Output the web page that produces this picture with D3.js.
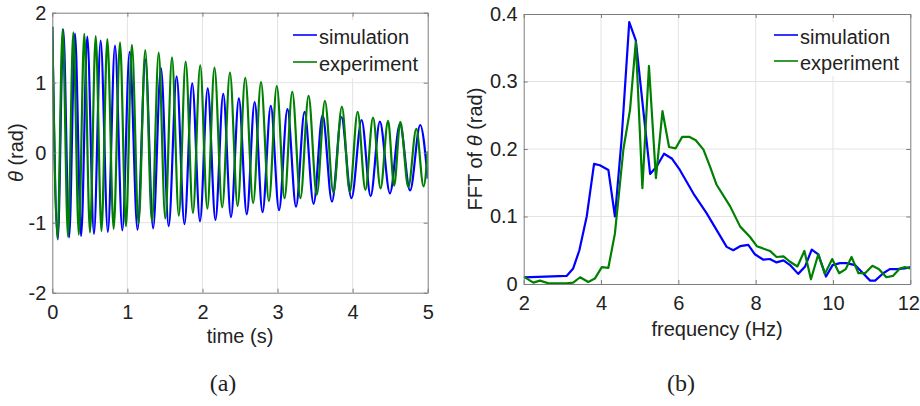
<!DOCTYPE html>
<html>
<head>
<meta charset="utf-8">
<script src="https://cdn.jsdelivr.net/npm/d3@7/dist/d3.min.js"></script>
<style>
  html, body { margin: 0; padding: 0; background: #fff; }
  svg { display: block; }
  text { font-family: "Liberation Sans", Arial, Helvetica, sans-serif; fill: #222; }
</style>
</head>
<body>
<svg id="fig" width="920" height="406"></svg>
<script>
// ---- (a) time response: successive peaks and troughs of θ(t) ----
const simTime = [0, 0.073, 0.146, 0.224, 0.302, 0.384, 0.466, 0.555, 0.644, 0.74, 0.835, 0.933,
  1.03, 1.135, 1.24, 1.343, 1.447, 1.55, 1.656, 1.76, 1.864, 1.967, 2.07, 2.173, 2.277, 2.38,
  2.485, 2.59, 2.695, 2.80, 2.91, 3.02, 3.132, 3.246, 3.36, 3.48, 3.60, 3.725, 3.85, 3.985,
  4.12, 4.24, 4.363, 4.497, 4.63, 4.765, 4.90, 5.0];
const simTheta = [1.80, -1.24, 1.76, -1.21, 1.70, -1.19, 1.66, -1.16, 1.60, -1.13, 1.53, -1.11,
  1.44, -1.10, 1.33, -1.08, 1.21, -1.05, 1.09, -1.02, 0.99, -0.98, 0.92, -0.96, 0.84, -0.92,
  0.777, -0.88, 0.724, -0.85, 0.668, -0.82, 0.622, -0.77, 0.583, -0.73, 0.538, -0.70, 0.51, -0.65,
  0.467, -0.62, 0.443, -0.58, 0.41, -0.54, 0.396, -0.37];

const expTime = [0, 0.069, 0.138, 0.209, 0.28, 0.353, 0.426, 0.502, 0.578, 0.655, 0.733, 0.817,
  0.902, 0.981, 1.06, 1.149, 1.238, 1.327, 1.417, 1.505, 1.594, 1.685, 1.776, 1.873, 1.97, 2.065,
  2.16, 2.263, 2.366, 2.468, 2.57, 2.675, 2.78, 2.885, 2.99, 3.093, 3.196, 3.305, 3.413, 3.522,
  3.631, 3.744, 3.857, 3.962, 4.067, 4.17, 4.272, 4.372, 4.472, 4.553, 4.635, 4.742, 4.848, 4.945, 5.0];
const expTheta = [1.80, -1.22, 1.767, -1.20, 1.72, -1.17, 1.697, -1.14, 1.667, -1.12, 1.624, -1.09,
  1.577, -1.05, 1.539, -1.01, 1.467, -0.98, 1.429, -0.94, 1.363, -0.90, 1.30, -0.86, 1.249, -0.80,
  1.214, -0.78, 1.143, -0.76, 1.071, -0.72, 1.01, -0.69, 0.953, -0.65, 0.871, -0.65, 0.812, -0.60,
  0.741, -0.57, 0.657, -0.56, 0.582, -0.53, 0.50, -0.51, 0.455, -0.47, 0.44, -0.49, 0.339, -0.48, 0.02];

const timeTicks = [0, 1, 2, 3, 4, 5];
const thetaTicks = [-2, -1, 0, 1, 2];

// ---- (b) amplitude spectrum of θ ----
const simFreq = [2, 3.11, 3.28, 3.44, 3.63, 3.82, 3.97, 4.19, 4.36, 4.53, 4.73, 4.9, 5.27, 5.44,
  5.63, 5.83, 6.04, 6.39, 6.73, 7.25, 7.42, 7.6, 7.81, 7.98, 8.2, 8.37, 8.54, 8.72, 8.89, 9.1,
  9.28, 9.45, 9.62, 9.82, 9.99, 10.18, 10.35, 10.57, 10.74, 10.96, 11.09, 11.3, 11.47, 11.64, 11.86, 12];
const simFFT = [0.0099, 0.012, 0.023, 0.05, 0.10, 0.178, 0.176, 0.169, 0.10, 0.213, 0.388, 0.361,
  0.163, 0.174, 0.193, 0.186, 0.169, 0.134, 0.105, 0.055, 0.05, 0.056, 0.058, 0.044, 0.036, 0.037,
  0.032, 0.035, 0.028, 0.015, 0.026, 0.051, 0.044, 0.011, 0.028, 0.031, 0.031, 0.028, 0.018, 0.005,
  0.005, 0.016, 0.022, 0.022, 0.023, 0.025];

const expFreq = [2, 2.25, 2.42, 2.64, 3.11, 3.28, 3.46, 3.67, 3.84, 4.02, 4.19, 4.36, 4.58, 4.75,
  4.9, 5.07, 5.24, 5.42, 5.59, 5.76, 5.93, 6.1, 6.28, 6.45, 6.65, 6.82, 6.99, 7.34, 7.6, 7.85,
  8.03, 8.37, 8.54, 8.72, 8.89, 9.08, 9.26, 9.43, 9.62, 9.79, 9.98, 10.16, 10.33, 10.48, 10.66,
  10.83, 11.02, 11.19, 11.38, 11.55, 11.73, 11.86, 12];
const expFFT = [0.011, 0.002, 0.005, 0.001, 0.001, 0.002, 0.01, 0.003, 0.008, 0.025, 0.024, 0.075,
  0.2, 0.258, 0.359, 0.142, 0.323, 0.157, 0.256, 0.203, 0.201, 0.218, 0.218, 0.213, 0.199, 0.174,
  0.147, 0.115, 0.085, 0.07, 0.056, 0.049, 0.04, 0.041, 0.033, 0.026, 0.049, 0.007, 0.044, 0.015,
  0.037, 0.016, 0.022, 0.04, 0.016, 0.016, 0.027, 0.022, 0.01, 0.012, 0.023, 0.025, 0.023];

const freqTicks = [2, 4, 6, 8, 10, 12];
const fftTicks = [0, 0.1, 0.2, 0.3, 0.4];

const seriesNames = ["simulation", "experiment"];
const seriesColors = ["#0000ff", "#008000"];

const svg = d3.select("#fig");
const FONT = 20;
const FRAME = "#7d7d7d";
const GRID = "#e3e3e3";

function panel(opts) {
  const { x, y, xTicks, yTicks, xFmt, yFmt, series, curve, legend, xLabel, yLabel, id } = opts;
  const [x0, x1] = x.range();
  const [y0, y1] = y.range(); // y0 bottom, y1 top
  const g = svg.append("g");

  g.append("defs").append("clipPath").attr("id", id)
    .append("rect").attr("x", x0).attr("y", y1).attr("width", x1 - x0).attr("height", y0 - y1);

  // grid
  g.append("g").selectAll("line").data(xTicks.slice(1, -1)).join("line")
    .attr("x1", d => x(d)).attr("x2", d => x(d)).attr("y1", y1).attr("y2", y0)
    .attr("stroke", GRID).attr("stroke-width", 1);
  g.append("g").selectAll("line").data(yTicks.slice(1, -1)).join("line")
    .attr("y1", d => y(d)).attr("y2", d => y(d)).attr("x1", x0).attr("x2", x1)
    .attr("stroke", GRID).attr("stroke-width", 1);

  // data
  const plot = g.append("g").attr("clip-path", `url(#${id})`);
  series.forEach((s, i) => {
    const pts = s.xs.map((v, k) => [v, s.ys[k]]);
    plot.append("path")
      .attr("d", d3.line().x(d => x(d[0])).y(d => y(d[1])).curve(curve)(pts))
      .attr("fill", "none").attr("stroke", seriesColors[i])
      .attr("stroke-width", 2.2).attr("stroke-linejoin", "round");
  });

  // legend
  const lg = g.append("g");
  lg.append("rect").attr("x", legend.bx).attr("y", legend.by).attr("width", legend.bw)
    .attr("height", legend.bh).attr("fill", "#fff");
  seriesNames.forEach((name, i) => {
    const ly = legend.ly[i];
    lg.append("line").attr("x1", legend.lx).attr("x2", legend.lx + 24)
      .attr("y1", ly).attr("y2", ly).attr("stroke", seriesColors[i]).attr("stroke-width", 1.6);
    lg.append("text").attr("x", legend.lx + 26).attr("y", ly + 9)
      .attr("font-size", FONT).text(name);
  });

  // frame and inward ticks on all four sides
  const style = a => a.call(s => {
    s.select(".domain").attr("stroke", FRAME);
    s.selectAll(".tick line").attr("stroke", FRAME);
    s.selectAll(".tick text").attr("font-size", FONT)
      .attr("font-family", "'Liberation Sans', Arial, sans-serif").attr("fill", "#222");
  });
  const bottom = g.append("g").attr("transform", `translate(0,${y0})`)
    .call(d3.axisBottom(x).tickValues(xTicks).tickFormat(xFmt).tickSize(-4).tickSizeOuter(0).tickPadding(12))
    .call(style);
  if (xLabel.lastShift) {
    bottom.selectAll(".tick text").filter((d, k, n) => k === n.length - 1)
      .attr("dx", xLabel.lastShift);
  }
  g.append("g").attr("transform", `translate(0,${y1})`)
    .call(d3.axisTop(x).tickValues(xTicks).tickFormat("").tickSize(-4).tickSizeOuter(0))
    .call(style);
  g.append("g").attr("transform", `translate(${x0},0)`)
    .call(d3.axisLeft(y).tickValues(yTicks).tickFormat(yFmt).tickSize(-4).tickSizeOuter(0).tickPadding(6))
    .call(style);
  g.append("g").attr("transform", `translate(${x1},0)`)
    .call(d3.axisRight(y).tickValues(yTicks).tickFormat("").tickSize(-4).tickSizeOuter(0))
    .call(style);
  g.selectAll(".domain").attr("fill", "none");

  // axis titles
  g.append("text").attr("x", (x0 + x1) / 2).attr("y", xLabel.y)
    .attr("text-anchor", "middle").attr("font-size", FONT).text(xLabel.text);
  const yl = g.append("text")
    .attr("transform", `translate(${yLabel.x},${(y0 + y1) / 2}) rotate(-90)`)
    .attr("text-anchor", "middle").attr("font-size", FONT);
  yl.append("tspan").text(yLabel.pre);
  yl.append("tspan").attr("font-style", "italic").text("θ");
  yl.append("tspan").text(" (rad)");
}

const xL = d3.scaleLinear().domain([0, 5]).range([52.3, 427.7]);
const yL = d3.scaleLinear().domain([-2, 2]).range([292.7, 12.7]);
panel({
  id: "clipA", x: xL, y: yL, xTicks: timeTicks, yTicks: thetaTicks,
  xFmt: d => String(d), yFmt: d => String(d),
  series: [{ xs: simTime, ys: simTheta }, { xs: expTime, ys: expTheta }],
  curve: d3.curveMonotoneX,
  legend: { bx: 288, by: 20, bw: 138, bh: 58, lx: 293, ly: [35, 62] },
  xLabel: { text: "time (s)", y: 343 },
  yLabel: { x: 23, pre: "" }
});

const xR = d3.scaleLinear().domain([2, 12]).range([523.7, 910.3]);
const yR = d3.scaleLinear().domain([0, 0.4]).range([284, 14]);
panel({
  id: "clipB", x: xR, y: yR, xTicks: freqTicks, yTicks: fftTicks,
  xFmt: d => String(d), yFmt: d => (d === 0 ? "0" : d.toFixed(1)),
  series: [{ xs: simFreq, ys: simFFT }, { xs: expFreq, ys: expFFT }],
  curve: d3.curveLinear,
  legend: { bx: 768, by: 22, bw: 138, bh: 54, lx: 774, ly: [35, 61] },
  xLabel: { text: "frequency (Hz)", y: 336, lastShift: -2 },
  yLabel: { x: 482, pre: "FFT of " }
});

// sub-figure captions
[["(a)", 223], ["(b)", 681]].forEach(([t, cx]) => {
  svg.append("text").attr("x", cx).attr("y", 391).attr("text-anchor", "middle")
    .attr("font-size", 24)
    .style("font-family", "'Liberation Serif', 'Times New Roman', serif")
    .text(t);
});
</script>
</body>
</html>
